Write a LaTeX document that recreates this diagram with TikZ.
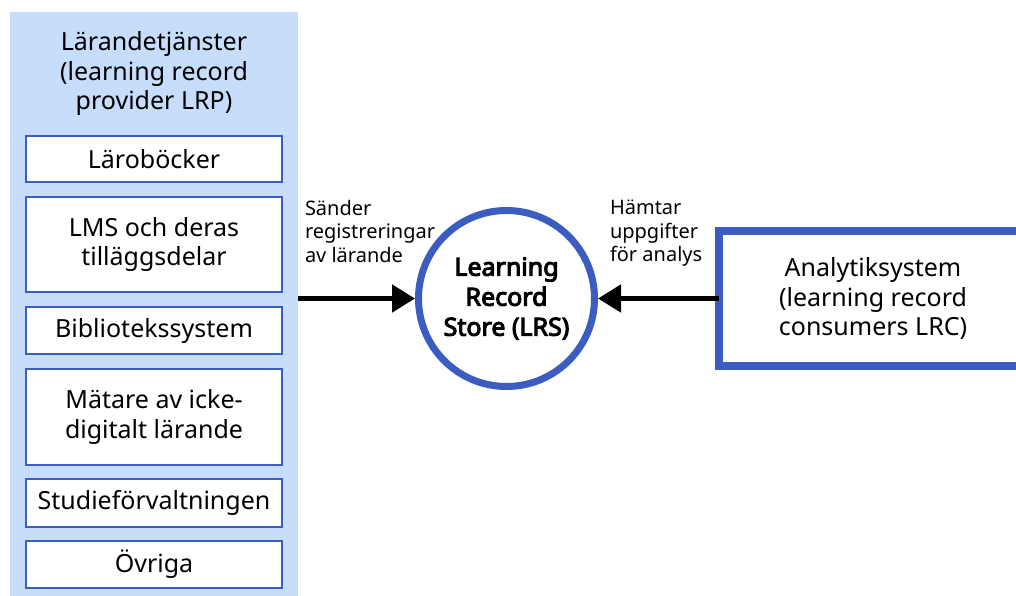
\documentclass[tikz,border=0pt]{standalone}
\usepackage{fontspec}
\setmainfont{Noto Sans}
\newfontfamily\lrsfont{Noto Sans}[FakeBold=4]
\usetikzlibrary{arrows.meta}
\definecolor{bluedge}{HTML}{3B5CC0}
\definecolor{panelfill}{HTML}{C6DEFB}
\begin{document}
\begin{tikzpicture}[x=1pt,y=-1pt,
  every node/.style={inner sep=0pt, outer sep=0pt},
  big/.style={font=\fontsize{25}{29.5}\selectfont},
  small/.style={font=\fontsize{20}{23.5}\selectfont},
  item/.style={draw=bluedge, line width=2pt, fill=white, minimum width=256pt, align=center, big},
  arr/.style={line width=5pt, -{Triangle[length=23pt,width=27pt]}},
]
\path[use as bounding box, clip] (0,0) rectangle (1016,596);
\node[fill=panelfill, minimum width=288pt, minimum height=584pt, anchor=north west] (panel) at (10,12) {};
\node[big, align=center, anchor=north] (title) at (154,32) {Lärandetjänster\\(learning record\\provider LRP)};
\node[item, minimum height=46pt] (b1) at (154,159) {Läroböcker};
\node[item, minimum height=95pt] (b2) at (154,244.5) {LMS och deras\\tilläggsdelar};
\node[item, minimum height=47pt] (b3) at (154,330.5) {Bibliotekssystem};
\node[item, minimum height=96pt] (b4) at (154,417) {Mätare av icke-\\digitalt lärande};
\node[item, minimum height=48pt] (b5) at (154,503) {Studieförvaltningen};
\node[item, minimum height=47pt] (b6) at (154,564.5) {Övriga};
\node[circle, draw=bluedge, line width=7pt, fill=white, minimum size=176pt, align=center, font=\lrsfont\fontsize{25}{30}\selectfont] (lrs) at (506.5,298.5) {Learning\\Record\\Store (LRS)};
\node[draw=bluedge, line width=8pt, fill=white, minimum width=308pt, minimum height=135pt, align=center, big] (lrc) at (873,298.5) {Analytiksystem\\(learning record\\consumers LRC)};
\draw[arr, shorten >=3.5pt] (lrs.west -| panel.east) -- (lrs.west);
\draw[arr, shorten >=3.5pt] (lrc.west) -- (lrs.east);
\node[small, align=left, anchor=north west] (send) at (305,200) {Sänder\\registreringar\\av lärande};
\node[small, align=left, anchor=north west] (fetch) at (610,200) {Hämtar\\uppgifter\\för analys};
\end{tikzpicture}
\end{document}
